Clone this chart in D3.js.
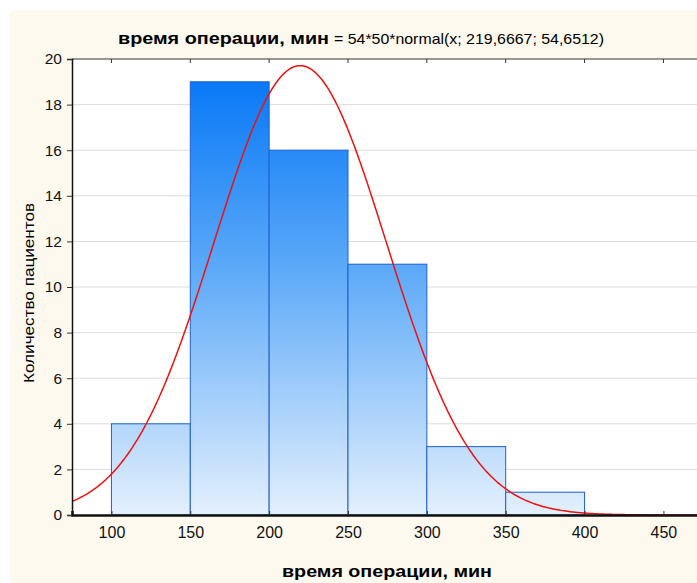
<!DOCTYPE html>
<html>
<head>
<meta charset="utf-8">
<script src="https://cdn.jsdelivr.net/npm/d3@7"></script>
<style>
  html, body { margin: 0; padding: 0; background: #ffffff; }
  svg { display: block; }
  text { font-family: "Liberation Sans", Arial, sans-serif; }
</style>
</head>
<body>
<svg id="chart" width="697" height="583"></svg>
<script>
// Histogram of operation duration (bin edges and patient counts)
const binStarts = [100, 150, 200, 250, 300, 350];
const binWidth = 50;
const counts = [4, 19, 16, 11, 3, 1];
const xTicks = [100, 150, 200, 250, 300, 350, 400, 450];
const yTicks = [0, 2, 4, 6, 8, 10, 12, 14, 16, 18, 20];
// Fitted normal curve parameters: N * binWidth * normal(x; mean; sd)
const fitN = 54;
const fitMean = 219.6667;
const fitSd = 54.6512;

const svg = d3.select("#chart");
const W = 697, H = 583;
const m = { left: 72, top: 59, bottom: 515 };

// cream panel background
svg.append("rect").attr("x", 10).attr("y", 10).attr("width", W - 10).attr("height", H - 10)
  .attr("fill", "#fdf9ee");

const x = d3.scaleLinear().domain([75, 475]).range([m.left, m.left + 400 * 1.5771]);
const y = d3.scaleLinear().domain([0, 20]).range([m.bottom, m.top]);

// plot area
svg.append("rect").attr("x", m.left).attr("y", m.top)
  .attr("width", W - m.left).attr("height", m.bottom - m.top).attr("fill", "#ffffff");

const defs = svg.append("defs");
const grad = defs.append("linearGradient").attr("id", "barGrad")
  .attr("gradientUnits", "userSpaceOnUse")
  .attr("x1", 0).attr("x2", 0).attr("y1", y(20)).attr("y2", y(0));
grad.append("stop").attr("offset", "0%").attr("stop-color", "#0073f7");
grad.append("stop").attr("offset", "45%").attr("stop-color", "#5aa8f8");
grad.append("stop").attr("offset", "100%").attr("stop-color", "#e4f0fd");

defs.append("clipPath").attr("id", "plotClip").append("rect")
  .attr("x", m.left).attr("y", m.top - 2).attr("width", W - m.left).attr("height", m.bottom - m.top + 2);

// horizontal grid lines
svg.append("g").selectAll("line").data(yTicks.filter(d => d > 0 && d < 20)).join("line")
  .attr("x1", m.left).attr("x2", W)
  .attr("y1", d => y(d)).attr("y2", d => y(d))
  .attr("stroke", "#dcdcdc").attr("stroke-width", 1);

// bars
svg.append("g").selectAll("rect").data(binStarts).join("rect")
  .attr("x", d => x(d))
  .attr("y", (d, i) => y(counts[i]))
  .attr("width", d => x(d + binWidth) - x(d))
  .attr("height", (d, i) => y(0) - y(counts[i]))
  .attr("fill", "url(#barGrad)")
  .attr("stroke", "#1f5fd0").attr("stroke-width", 1);

// fitted normal curve
const pdf = v => fitN * binWidth * Math.exp(-0.5 * ((v - fitMean) / fitSd) ** 2) / (fitSd * Math.sqrt(2 * Math.PI));
const curvePts = d3.range(75, 475.01, 1).map(v => [v, pdf(v)]);
svg.append("path").datum(curvePts)
  .attr("clip-path", "url(#plotClip)")
  .attr("d", d3.line().x(d => x(d[0])).y(d => y(d[1])))
  .attr("fill", "none").attr("stroke", "#ee1111").attr("stroke-width", 1.5);

// top frame with inward ticks
svg.append("line").attr("x1", m.left).attr("x2", W).attr("y1", m.top).attr("y2", m.top)
  .attr("stroke", "#333").attr("stroke-width", 1);
svg.append("g").selectAll("line").data(xTicks).join("line")
  .attr("x1", d => x(d)).attr("x2", d => x(d))
  .attr("y1", m.top).attr("y2", m.top + 4)
  .attr("stroke", "#333");

// bottom axis
const xAxis = svg.append("g").attr("transform", `translate(0,${m.bottom})`)
  .call(d3.axisBottom(x).tickValues(xTicks).tickSize(-4).tickPadding(12));
xAxis.select(".domain").attr("stroke", "#111").attr("stroke-width", 2.5);
xAxis.selectAll(".tick line").attr("stroke", "#333");
xAxis.selectAll("text").attr("font-size", 16).attr("fill", "#111")
  .attr("font-family", "Liberation Sans, Arial, sans-serif");

// left axis
const yAxis = svg.append("g").attr("transform", `translate(${m.left},0)`)
  .call(d3.axisLeft(y).tickValues(yTicks).tickSize(5).tickPadding(5));
yAxis.select(".domain").attr("stroke", "#111").attr("stroke-width", 1.5);
yAxis.selectAll(".tick line").attr("stroke", "#333");
yAxis.selectAll("text").attr("font-size", 15.5).attr("fill", "#111")
  .attr("font-family", "Liberation Sans, Arial, sans-serif");

// title: bold variable name followed by the fitted distribution formula
svg.append("text").attr("x", 118).attr("y", 44)
  .attr("font-size", 17).attr("font-weight", "bold").attr("fill", "#000")
  .attr("textLength", 211).attr("lengthAdjust", "spacingAndGlyphs")
  .text("время операции, мин");
svg.append("text").attr("x", 334).attr("y", 44)
  .attr("font-size", 15).attr("fill", "#000")
  .attr("textLength", 270).attr("lengthAdjust", "spacingAndGlyphs")
  .text("= 54*50*normal(x; 219,6667; 54,6512)");

// axis titles
svg.append("text").attr("x", 282).attr("y", 577)
  .attr("font-size", 17).attr("font-weight", "bold").attr("fill", "#000")
  .attr("textLength", 210).attr("lengthAdjust", "spacingAndGlyphs")
  .text("время операции, мин");
svg.append("text").attr("transform", "translate(34,293) rotate(-90)").attr("text-anchor", "middle")
  .attr("font-size", 15).attr("fill", "#000")
  .attr("textLength", 180).attr("lengthAdjust", "spacingAndGlyphs")
  .text("Количество пациентов");
</script>
</body>
</html>
